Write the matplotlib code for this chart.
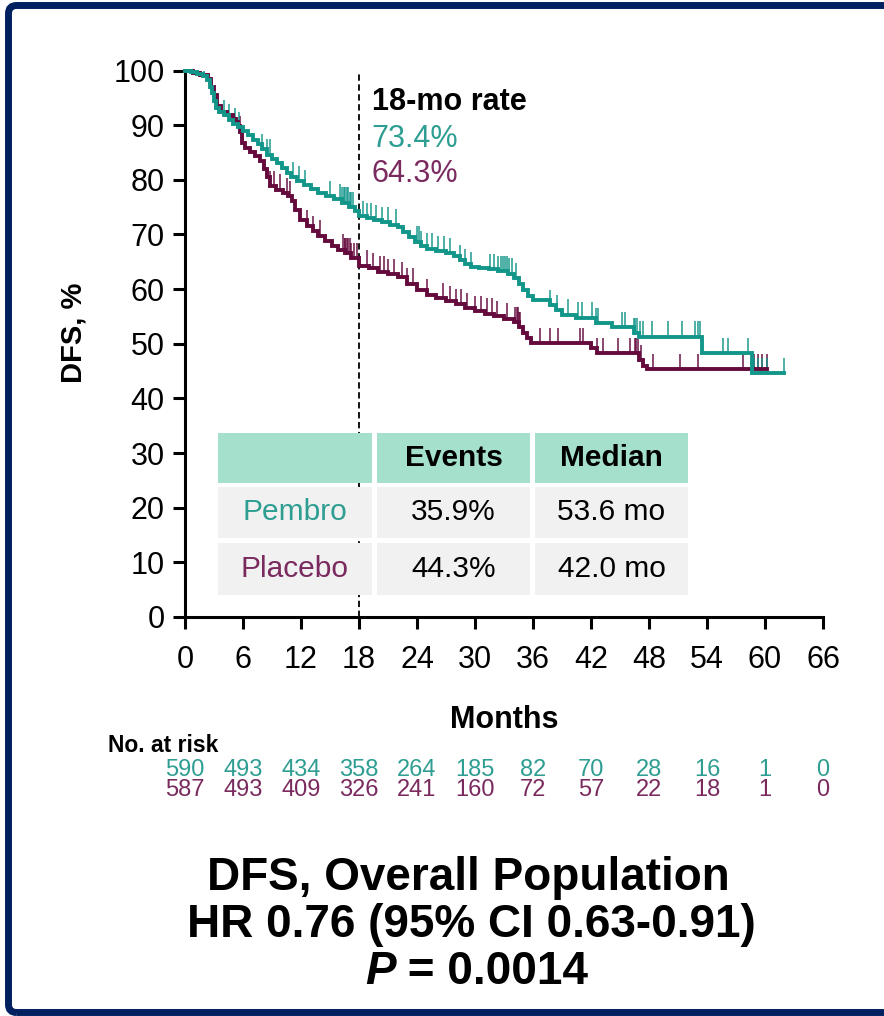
import numpy as np
import matplotlib
matplotlib.use("Agg")
import matplotlib.pyplot as plt
from matplotlib.patches import Rectangle, FancyBboxPatch
from matplotlib.transforms import IdentityTransform

# ---------------- data ----------------
months_ticks = [0, 6, 12, 18, 24, 30, 36, 42, 48, 54, 60, 66]
dfs_ticks = [0, 10, 20, 30, 40, 50, 60, 70, 80, 90, 100]

pembro_t = [0, 0.6, 1.2, 1.9, 2.3, 2.6, 2.8, 3.0, 3.2, 3.5, 4.0, 4.5, 5.0, 5.5,
            6.0, 6.5, 7.0, 7.5, 8.0, 8.5, 9.0, 9.5, 10.0, 10.5, 11.0, 11.6, 12.3,
            13.0, 13.8, 14.6, 15.4, 16.2, 17.0, 17.6, 18.0, 18.8, 19.6, 20.4,
            21.2, 22.0, 22.6, 23.2, 23.8, 24.4, 25.0, 26.0, 27.0, 27.8, 28.4,
            29.0, 29.6, 30.4, 31.4, 32.4, 33.4, 34.0, 34.5, 35.0, 35.5, 36.0,
            37.8, 38.4, 39.0, 40.4, 42.5, 44.2, 46.4, 47.0, 53.5, 58.7]
pembro_s = [100, 99.7, 99.3, 99.0, 98.3, 97.0, 95.8, 94.5, 93.2, 92.4, 91.8, 91.0,
            90.3, 89.6, 88.9, 88.2, 87.2, 86.5, 85.6, 84.6, 83.8, 83.0, 82.2,
            81.3, 80.5, 79.7, 79.0, 78.3, 77.6, 77.0, 76.4, 75.8, 75.0, 74.2,
            73.4, 73.0, 72.6, 72.2, 71.8, 71.3, 70.5, 69.6, 68.7, 67.9, 67.4,
            67.0, 66.6, 66.0, 65.3, 64.6, 64.0, 63.8, 63.6, 63.3, 62.8, 62.0,
            61.0, 59.8, 58.7, 58.0, 57.0, 56.2, 55.3, 54.8, 53.8, 53.0, 52.0,
            51.3, 48.3, 44.6]
pembro_end = 62.0

placebo_t = [0, 0.8, 1.6, 2.4, 2.7, 3.0, 3.3, 3.7, 4.3, 5.0, 5.3, 5.5, 5.7, 5.9,
             6.2, 6.7, 7.2, 7.8, 8.2, 8.5, 8.8, 9.4, 10.1, 10.7, 11.1, 11.4, 11.9,
             12.6, 13.2, 13.8, 14.5, 15.2, 15.8, 16.5, 17.2, 18.0, 19.0, 20.0,
             21.0, 22.0, 23.0, 24.0, 25.0, 26.0, 27.0, 28.0, 29.0, 30.0, 31.0,
             32.0, 33.0, 34.0, 34.6, 35.0, 35.4, 35.8, 42.0, 42.6, 47.0, 47.4,
             47.8]
placebo_s = [100, 99.6, 99.2, 98.5, 97.0, 95.5, 93.5, 92.4, 91.8, 91.2, 90.6, 89.8,
             88.8, 86.8, 85.8, 85.0, 84.3, 83.4, 82.0, 80.6, 78.8, 78.2, 77.6,
             77.0, 76.2, 74.4, 72.6, 71.6, 70.6, 69.8, 68.8, 67.8, 67.2, 66.6,
             65.6, 64.3, 63.8, 63.2, 62.7, 62.2, 61.0, 59.9, 59.0, 58.4, 57.8,
             57.2, 56.5, 56.0, 55.5, 55.0, 54.6, 53.9, 53.0, 52.0, 51.0, 50.1,
             49.2, 48.3, 47.0, 46.0, 45.3]
placebo_end = 60.2

pembro_censor = [1.5, 2.0, 4.0, 4.6, 5.2, 5.6, 8.0, 8.5, 8.8, 11.2, 11.8, 12.4,
                 15.0, 16.0, 16.2, 16.4, 16.6, 16.8, 16.9, 17.1, 17.2, 17.4,
                 18.4, 18.8, 19.2, 19.8, 20.4, 21.0, 21.8, 24.0, 24.2, 24.4,
                 25.0, 25.6, 26.2, 26.8, 27.4, 28.4, 29.0, 29.6, 31.5, 32.0,
                 32.4, 32.7, 32.9, 33.1, 33.3, 33.5, 33.8, 34.2, 37.8, 38.5,
                 39.6, 40.7, 41.1, 42.1, 42.5, 42.7, 45.2, 45.5, 46.4, 46.6,
                 46.8, 47.1, 47.4, 48.3, 50.0, 51.4, 52.8, 53.1, 53.3, 55.7,
                 56.2, 58.2, 58.9, 59.3, 59.7, 60.2, 62.0]
placebo_censor = [5.7, 6.0, 8.8, 9.2, 9.8, 10.5, 10.9, 12.6, 13.2, 14.0, 16.3,
                  16.5, 16.6, 16.8, 16.9, 17.1, 17.2, 17.5, 17.8, 18.8, 19.4,
                  20.2, 20.6, 21.0, 21.6, 22.4, 23.0, 23.6, 25.0, 26.7, 27.4,
                  28.0, 28.6, 29.2, 30.0, 30.6, 31.2, 31.8, 32.3, 33.3, 34.1,
                  34.3, 34.4, 34.6, 34.7, 36.7, 37.8, 38.6, 40.9, 41.2, 42.6,
                  43.2, 44.8, 46.0, 46.5, 46.7, 46.9, 47.2, 48.4, 51.2, 53.1,
                  57.7, 58.9, 59.3, 59.7, 60.2]

risk_pembro = [590, 493, 434, 358, 264, 185, 82, 70, 28, 16, 1, 0]
risk_placebo = [587, 493, 409, 326, 241, 160, 72, 57, 22, 18, 1, 0]

rate_18_pembro = "73.4%"
rate_18_placebo = "64.3%"

table_header = ["", "Events", "Median"]
table_rows = [["Pembro", "35.9%", "53.6 mo"],
              ["Placebo", "44.3%", "42.0 mo"]]

# ---------------- style ----------------
TEAL = "#13968A"
TEAL_TXT = "#2E9E92"
MAROON = "#640A3D"
MAROON_TXT = "#7A2A5E"
NAVY = "#002060"
HEADER_FILL = "#A4E0CC"
ROW_FILL = "#F1F1F1"
SANS = ["Liberation Sans", "DejaVu Sans"]

W, H = 884, 1016
fig = plt.figure(figsize=(W / 100, H / 100), dpi=100)
fig.patch.set_facecolor("white")


def fx(px):
    return px / W


def fy(py):
    return 1 - py / H


ax = fig.add_axes([fx(185), fy(617), fx(823) - fx(185), fy(70.5) - fy(617)])
ax.set_xlim(0, 66)
ax.set_ylim(0, 100)
for side in ("top", "right"):
    ax.spines[side].set_visible(False)
for side in ("left", "bottom"):
    ax.spines[side].set_linewidth(2.2)
ax.set_xticks(months_ticks)
ax.set_yticks(dfs_ticks)
ax.tick_params(axis="both", direction="out", length=8.5, width=2.2, pad=6)
for lab in ax.get_xticklabels() + ax.get_yticklabels():
    lab.set_family(SANS)
    lab.set_fontsize(22)
ax.tick_params(axis="x", pad=12)


def draw_arm(t, s, t_end, censor, color):
    tt = np.array(t + [t_end])
    ss = np.array(s + [s[-1]])
    ax.step(tt, ss, where="post", color=color, lw=2.8, clip_on=False, zorder=4,
            solid_joinstyle="miter")
    c = np.array(censor)
    idx = np.searchsorted(np.array(t), c, side="right") - 1
    sc = np.array(s)[idx]
    ax.vlines(c, sc, sc + 2.8, color=color, lw=1.4, alpha=0.75, zorder=3)


draw_arm(placebo_t, placebo_s, placebo_end, placebo_censor, MAROON)
draw_arm(pembro_t, pembro_s, pembro_end, pembro_censor, TEAL)

# 18-month reference line
ax.vlines(18, 0, 100, colors="black", linestyles=(0, (3.5, 2)), lw=1.3, zorder=2)
ax.text(19.3, 94.2, "18-mo rate", family=SANS, fontsize=22, fontweight="bold",
        ha="left", va="center", color="black")
ax.text(19.3, 87.5, rate_18_pembro, family=SANS, fontsize=22, ha="left",
        va="center", color=TEAL_TXT)
ax.text(19.3, 81.1, rate_18_placebo, family=SANS, fontsize=22, ha="left",
        va="center", color=MAROON_TXT)

# summary table drawn inside the plot
col_edges = [(3.41, 19.34), (19.86, 35.69), (36.2, 52.03)]
row_edges = [(24.52, 33.67), (14.46, 23.79), (4.03, 13.54)]
cells = [table_header] + table_rows
for r, (y0, y1) in enumerate(row_edges):
    for c, (x0, x1) in enumerate(col_edges):
        ax.add_patch(Rectangle((x0, y0), x1 - x0, y1 - y0,
                               facecolor=HEADER_FILL if r == 0 else ROW_FILL,
                               edgecolor="none", zorder=5))
        txt = cells[r][c]
        if not txt:
            continue
        color = "black"
        weight = "bold" if r == 0 else "normal"
        if c == 0:
            color = TEAL_TXT if r == 1 else MAROON_TXT
        ax.text((x0 + x1) / 2, (y0 + y1) / 2, txt, family=SANS, fontsize=21.5,
                fontweight=weight, color=color, ha="center", va="center", zorder=6)

# axis titles
fig.text(fx(74), fy(333), "DFS, %", family=SANS, fontsize=21, fontweight="bold",
         rotation=90, ha="center", va="center")
fig.text(fx(504), fy(720), "Months", family=SANS, fontsize=22, fontweight="bold",
         ha="center", va="center")

# numbers at risk
fig.text(fx(108), fy(745), "No. at risk", family=SANS, fontsize=16.5,
         fontweight="bold", ha="left", va="center")
for m, a, b in zip(months_ticks, risk_pembro, risk_placebo):
    xf = fx(185 + m * (823 - 185) / 66)
    fig.text(xf, fy(770), str(a), family=SANS, fontsize=17, color=TEAL_TXT,
             ha="center", va="center")
    fig.text(xf, fy(790), str(b), family=SANS, fontsize=17, color=MAROON_TXT,
             ha="center", va="center")

# headline statistics
fig.text(0.5 * (fx(207) + fx(730)), fy(878), "DFS, Overall Population",
         family=SANS, fontsize=33, fontweight="bold", ha="center", va="center")
fig.text(0.5 * (fx(187) + fx(756)), fy(925), "HR 0.76 (95% CI 0.63-0.91)",
         family=SANS, fontsize=33, fontweight="bold", ha="center", va="center")
fig.text(fx(365), fy(972), "P", family=SANS, fontsize=33,
         fontweight="bold", style="italic", ha="left", va="center")
fig.text(fx(395), fy(972), " = 0.0014", family=SANS, fontsize=33,
         fontweight="bold", ha="left", va="center")

# navy frame
frame = FancyBboxPatch((8.5, 3.5), 895 - 8.5, (H - 5.5) - 3.5,
                       boxstyle="round,pad=0,rounding_size=8",
                       transform=IdentityTransform(), fill=False,
                       edgecolor=NAVY, linewidth=5.0, zorder=10)
fig.patches.append(frame)

fig.savefig("out.png", dpi=100, facecolor="white")
